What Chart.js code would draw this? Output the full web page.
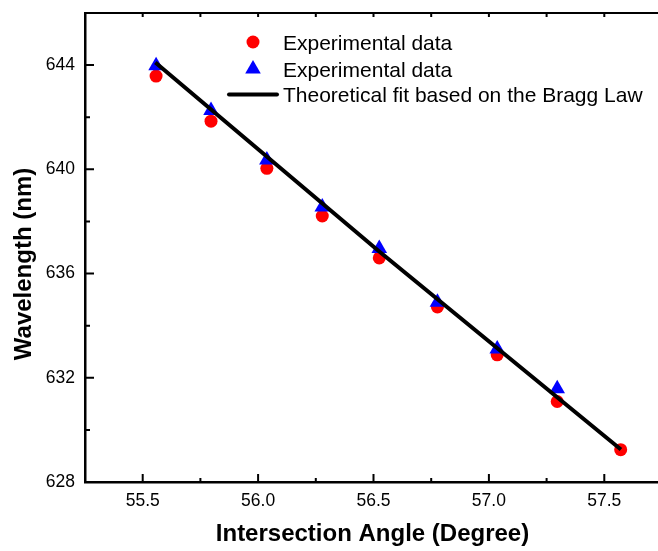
<!DOCTYPE html>
<html>
<head>
<meta charset="utf-8">
<script src="https://cdn.jsdelivr.net/npm/chart.js@4.4.1/dist/chart.umd.min.js"></script>
<style>
  html, body { margin: 0; padding: 0; overflow: hidden; background: #fff; }
  #wrap { width: 662px; height: 551px; }
</style>
</head>
<body>
<div id="wrap"><canvas id="c" width="662" height="551"></canvas></div>
<script>
// Measured wavelength vs. intersection angle (two experimental runs) and the Bragg-law fit
const angleRed = [55.558, 55.796, 56.038, 56.278, 56.525, 56.777, 57.036, 57.296, 57.571];
const wavelengthRed = [643.58, 641.85, 640.04, 638.21, 636.60, 634.72, 632.88, 631.09, 629.24];
const angleBlue = [55.558, 55.796, 56.038, 56.278, 56.525, 56.777, 57.036, 57.296];
const wavelengthBlue = [643.98, 642.26, 640.36, 638.55, 636.96, 634.90, 633.10, 631.58];
const fitAngle = [55.555, 56.525, 57.572];
const fitWavelength = [644.10, 636.85, 629.25];

const xTicks = [55.5, 56.0, 56.5, 57.0, 57.5];
const xMinorTicks = [55.25, 55.75, 56.25, 56.75, 57.25, 57.75];
const yTicks = [628, 632, 636, 640, 644];
const yMinorTicks = [630, 634, 638, 642];

const seriesLabels = ['Experimental data', 'Experimental data', 'Theoretical fit based on the Bragg Law'];
const xTitle = 'Intersection Angle (Degree)';
const yTitle = 'Wavelength (nm)';

const FONT = '"Liberation Sans", Arial, Helvetica, sans-serif';

const toPoints = (xs, ys) => xs.map((x, i) => ({ x: x, y: ys[i] }));

// Inward tick marks on left, bottom and top edges plus the top frame line
const framePlugin = {
  id: 'frameTicks',
  afterDatasetsDraw(chart) {
    const { ctx, chartArea: a, scales: { x, y } } = chart;
    ctx.save();
    ctx.strokeStyle = '#000';
    ctx.lineWidth = 2;
    ctx.lineCap = 'butt';
    ctx.beginPath();
    // top frame
    ctx.moveTo(a.left, a.top);
    ctx.lineTo(a.right, a.top);
    // bottom ticks
    xTicks.forEach(v => { const p = x.getPixelForValue(v); ctx.moveTo(p, a.bottom); ctx.lineTo(p, a.bottom - 8); });
    xMinorTicks.forEach(v => { const p = x.getPixelForValue(v); ctx.moveTo(p, a.bottom); ctx.lineTo(p, a.bottom - 4); });
    // top ticks
    xTicks.concat(xMinorTicks).forEach(v => { const p = x.getPixelForValue(v); ctx.moveTo(p, a.top); ctx.lineTo(p, a.top + 4); });
    // left ticks
    yTicks.forEach(v => { const p = y.getPixelForValue(v); ctx.moveTo(a.left, p); ctx.lineTo(a.left + 9, p); });
    yMinorTicks.forEach(v => { const p = y.getPixelForValue(v); ctx.moveTo(a.left, p); ctx.lineTo(a.left + 5, p); });
    ctx.stroke();
    ctx.restore();
  }
};

// Axis titles and the inset legend
const textPlugin = {
  id: 'titlesLegend',
  afterDraw(chart) {
    const { ctx } = chart;
    const ds = chart.data.datasets;
    ctx.save();
    ctx.fillStyle = '#000';
    ctx.font = 'bold 24px ' + FONT;
    ctx.textAlign = 'center';
    ctx.textBaseline = 'middle';
    ctx.fillText(xTitle, 372.5, 534);
    ctx.save();
    ctx.translate(24, 264);
    ctx.rotate(-Math.PI / 2);
    ctx.fillText(yTitle, 0, 0);
    ctx.restore();

    // legend entries
    const symX = 253, textX = 283;
    ctx.font = '21px ' + FONT;
    ctx.textAlign = 'left';
    ctx.textBaseline = 'alphabetic';

    // circle
    const red = ds[2];
    ctx.fillStyle = red.backgroundColor;
    ctx.beginPath();
    ctx.arc(symX, 42, red.pointRadius, 0, Math.PI * 2);
    ctx.fill();
    ctx.fillStyle = '#000';
    ctx.fillText(red.label, textX, 49.5);

    // triangle
    const blue = ds[1];
    const r = blue.pointRadius, cy = 69;
    ctx.fillStyle = blue.backgroundColor;
    ctx.beginPath();
    ctx.moveTo(symX, cy - r);
    ctx.lineTo(symX + r * Math.sin(2 * Math.PI / 3), cy - r * Math.cos(2 * Math.PI / 3));
    ctx.lineTo(symX - r * Math.sin(2 * Math.PI / 3), cy - r * Math.cos(2 * Math.PI / 3));
    ctx.closePath();
    ctx.fill();
    ctx.fillStyle = '#000';
    ctx.fillText(blue.label, textX, 76.5);

    // line
    const fit = ds[0];
    ctx.strokeStyle = fit.borderColor;
    ctx.lineWidth = fit.borderWidth;
    ctx.lineCap = 'round';
    ctx.beginPath();
    ctx.moveTo(229, 94.5);
    ctx.lineTo(277, 94.5);
    ctx.stroke();
    ctx.fillStyle = '#000';
    ctx.fillText(fit.label, textX, 102);
    ctx.restore();
  }
};

// Fixed axis box sizes, with no extra room reserved for edge labels
const fixX = s => { s.height = 69; s.paddingLeft = 0; s.paddingRight = 0; s.paddingTop = 0; s.paddingBottom = 0; };
const fixY = s => { s.width = 85; s.paddingLeft = 0; s.paddingRight = 0; s.paddingTop = 0; s.paddingBottom = 0; };

new Chart(document.getElementById('c'), {
  type: 'scatter',
  data: {
    datasets: [
      {
        label: seriesLabels[2],
        data: toPoints(fitAngle, fitWavelength),
        showLine: true,
        borderColor: '#000000',
        borderWidth: 4,
        pointRadius: 0,
        pointHoverRadius: 0,
        order: 1
      },
      {
        label: seriesLabels[1],
        data: toPoints(angleBlue, wavelengthBlue),
        pointStyle: 'triangle',
        pointRadius: 9,
        backgroundColor: '#0000ff',
        borderWidth: 0,
        order: 2
      },
      {
        label: seriesLabels[0],
        data: toPoints(angleRed, wavelengthRed),
        pointStyle: 'circle',
        pointRadius: 6.5,
        backgroundColor: '#ff0000',
        borderWidth: 0,
        order: 3
      }
    ]
  },
  options: {
    responsive: false,
    animation: false,
    devicePixelRatio: 1,
    layout: { autoPadding: false, padding: { top: 13, right: 0, bottom: 0, left: 0 } },
    plugins: { legend: { display: false }, tooltip: { enabled: false } },
    scales: {
      x: {
        type: 'linear',
        min: 55.25,
        max: 57.75,
        afterBuildTicks: s => { s.ticks = xTicks.map(v => ({ value: v })); },
        afterFit: fixX,
        grid: { display: false, drawTicks: false },
        border: { display: true, color: '#000', width: 2.5 },
        ticks: {
          padding: 9,
          color: '#000',
          font: { family: FONT, size: 17.5 },
          callback: v => Number(v).toFixed(1)
        }
      },
      y: {
        type: 'linear',
        min: 628,
        max: 646,
        afterBuildTicks: s => { s.ticks = yTicks.map(v => ({ value: v })); },
        afterFit: fixY,
        grid: { display: false, drawTicks: false },
        border: { display: true, color: '#000', width: 2.5 },
        ticks: {
          padding: 10,
          color: '#000',
          font: { family: FONT, size: 17.5 },
          callback: v => String(v)
        }
      }
    }
  },
  plugins: [framePlugin, textPlugin]
});
</script>
</body>
</html>
